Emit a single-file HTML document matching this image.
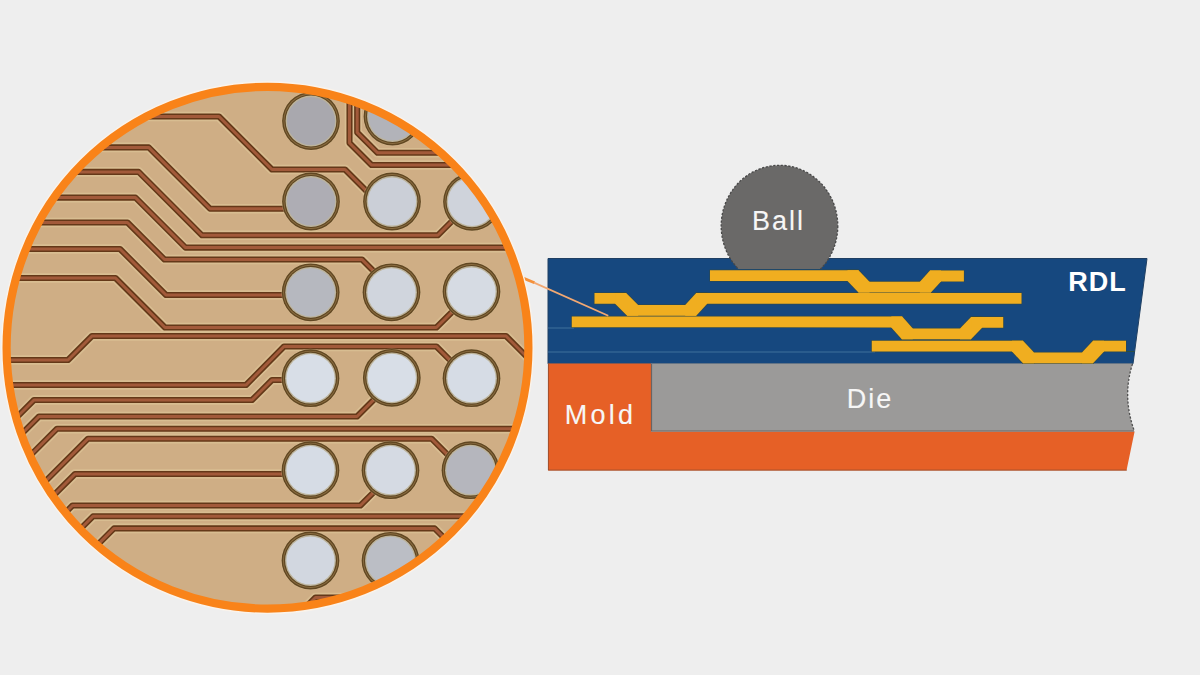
<!DOCTYPE html>
<html><head><meta charset="utf-8"><title>RDL</title>
<style>
html,body{margin:0;padding:0;background:#eeeeee;}
body{width:1200px;height:675px;overflow:hidden;}
svg{display:block;}
.lb{font-family:"Liberation Sans",sans-serif;font-size:27px;fill:#f6f6f6;stroke:#f6f6f6;stroke-width:0.12px;letter-spacing:2px;}
.m{letter-spacing:3.3px;}
.b{font-weight:bold;fill:#ffffff;stroke:none;letter-spacing:1px;}
</style></head><body>
<svg width="1200" height="675" viewBox="0 0 1200 675">
<rect width="1200" height="675" fill="#eeeeee"/>
<polygon points="548,258.5 1147,258.5 1133,363.8 548,363.8" fill="#16487f" stroke="#1f3f62" stroke-width="1"/>
<line x1="548" y1="328" x2="574" y2="328" stroke="#3f709c" stroke-width="1"/>
<line x1="548" y1="352" x2="875" y2="352" stroke="#3f709c" stroke-width="1"/>
<line x1="1126" y1="351.5" x2="1134.5" y2="351.5" stroke="#2d5040" stroke-width="1"/>
<polygon points="548,363.5 651,363.5 651,431.5 1134.6,431.5 1126.5,470.6 548,470.6" fill="#e66026"/>
<path d="M548.4,364 L548.4,470.1 L1126.8,470.1" fill="none" stroke="#8f4b2e" stroke-width="1" opacity="0.8"/>
<path d="M651,363.5 L1132.5,363.5 Q1122,396.5 1134.3,431.5 L651,431.5 Z" fill="#9b9a99"/>
<path d="M1132.5,364 Q1122,396.5 1134.3,431" fill="none" stroke="#4e4e4e" stroke-width="1.3" stroke-dasharray="2.2,1.6"/>
<path d="M651.5,364 L651.5,431 L1134,431" fill="none" stroke="#6a6463" stroke-width="1.2"/>
<defs><clipPath id="bc"><rect x="600" y="100" width="400" height="169"/></clipPath></defs>
<ellipse cx="779.5" cy="226" rx="58.3" ry="60.7" fill="#6a6968" stroke="#484848" stroke-width="1.3" stroke-dasharray="2.2,1.6" clip-path="url(#bc)"/>
<polygon points="710.0,270.2 858.5,270.2 858.5,281.1 710.0,281.1" fill="none" stroke="#3b4a35" stroke-width="1.4" stroke-linejoin="round" opacity="0.6"/>
<polygon points="847.5,270.2 858.5,270.2 869.5,281.7 869.5,292.6 858.5,292.6 847.5,281.1" fill="none" stroke="#3b4a35" stroke-width="1.4" stroke-linejoin="round" opacity="0.6"/>
<polygon points="858.5,281.7 930.9,281.7 930.9,292.6 858.5,292.6" fill="none" stroke="#3b4a35" stroke-width="1.4" stroke-linejoin="round" opacity="0.6"/>
<polygon points="919.9,292.6 919.9,281.7 930.0,270.6 941.0,270.6 941.0,281.4 930.9,292.6" fill="none" stroke="#3b4a35" stroke-width="1.4" stroke-linejoin="round" opacity="0.6"/>
<polygon points="930.0,270.6 963.9,270.6 963.9,281.4 930.0,281.4" fill="none" stroke="#3b4a35" stroke-width="1.4" stroke-linejoin="round" opacity="0.6"/>
<polygon points="594.5,292.9 626.1,292.9 626.1,303.8 594.5,303.8" fill="none" stroke="#3b4a35" stroke-width="1.4" stroke-linejoin="round" opacity="0.6"/>
<polygon points="615.1,292.9 626.1,292.9 638.1,304.9 638.1,315.8 627.1,315.8 615.1,303.8" fill="none" stroke="#3b4a35" stroke-width="1.4" stroke-linejoin="round" opacity="0.6"/>
<polygon points="627.1,304.9 696.2,304.9 696.2,315.8 627.1,315.8" fill="none" stroke="#3b4a35" stroke-width="1.4" stroke-linejoin="round" opacity="0.6"/>
<polygon points="685.2,315.8 685.2,304.9 696.2,292.9 707.2,292.9 707.2,303.8 696.2,315.8" fill="none" stroke="#3b4a35" stroke-width="1.4" stroke-linejoin="round" opacity="0.6"/>
<polygon points="696.2,292.9 1021.5,292.9 1021.5,303.8 696.2,303.8" fill="none" stroke="#3b4a35" stroke-width="1.4" stroke-linejoin="round" opacity="0.6"/>
<polygon points="571.8,316.4 582.8,316.4 902.2,316.6 902.2,327.4 891.3,327.4 571.8,327.3" fill="none" stroke="#3b4a35" stroke-width="1.4" stroke-linejoin="round" opacity="0.6"/>
<polygon points="891.3,316.6 902.2,316.6 912.8,328.4 912.8,339.3 901.8,339.3 891.3,327.4" fill="none" stroke="#3b4a35" stroke-width="1.4" stroke-linejoin="round" opacity="0.6"/>
<polygon points="901.8,328.4 971.0,328.4 971.0,339.3 901.8,339.3" fill="none" stroke="#3b4a35" stroke-width="1.4" stroke-linejoin="round" opacity="0.6"/>
<polygon points="960.0,339.3 960.0,328.4 971.1,316.9 982.1,316.9 982.1,327.8 971.0,339.3" fill="none" stroke="#3b4a35" stroke-width="1.4" stroke-linejoin="round" opacity="0.6"/>
<polygon points="971.1,316.9 1003.2,316.9 1003.2,327.8 971.1,327.8" fill="none" stroke="#3b4a35" stroke-width="1.4" stroke-linejoin="round" opacity="0.6"/>
<polygon points="871.8,340.8 1023.0,340.8 1023.0,351.6 871.8,351.6" fill="none" stroke="#3b4a35" stroke-width="1.4" stroke-linejoin="round" opacity="0.6"/>
<polygon points="1012.0,340.8 1023.0,340.8 1034.0,352.4 1034.0,363.3 1023.0,363.3 1012.0,351.6" fill="none" stroke="#3b4a35" stroke-width="1.4" stroke-linejoin="round" opacity="0.6"/>
<polygon points="1023.0,352.4 1093.0,352.4 1093.0,363.3 1023.0,363.3" fill="none" stroke="#3b4a35" stroke-width="1.4" stroke-linejoin="round" opacity="0.6"/>
<polygon points="1082.0,363.3 1082.0,352.4 1093.0,340.8 1104.0,340.8 1104.0,351.6 1093.0,363.3" fill="none" stroke="#3b4a35" stroke-width="1.4" stroke-linejoin="round" opacity="0.6"/>
<polygon points="1093.0,340.8 1126.0,340.8 1126.0,351.6 1093.0,351.6" fill="none" stroke="#3b4a35" stroke-width="1.4" stroke-linejoin="round" opacity="0.6"/>
<polygon points="710.0,270.2 858.5,270.2 858.5,281.1 710.0,281.1" fill="#f0ae20"/>
<polygon points="847.5,270.2 858.5,270.2 869.5,281.7 869.5,292.6 858.5,292.6 847.5,281.1" fill="#f0ae20"/>
<polygon points="858.5,281.7 930.9,281.7 930.9,292.6 858.5,292.6" fill="#f0ae20"/>
<polygon points="919.9,292.6 919.9,281.7 930.0,270.6 941.0,270.6 941.0,281.4 930.9,292.6" fill="#f0ae20"/>
<polygon points="930.0,270.6 963.9,270.6 963.9,281.4 930.0,281.4" fill="#f0ae20"/>
<polygon points="594.5,292.9 626.1,292.9 626.1,303.8 594.5,303.8" fill="#f0ae20"/>
<polygon points="615.1,292.9 626.1,292.9 638.1,304.9 638.1,315.8 627.1,315.8 615.1,303.8" fill="#f0ae20"/>
<polygon points="627.1,304.9 696.2,304.9 696.2,315.8 627.1,315.8" fill="#f0ae20"/>
<polygon points="685.2,315.8 685.2,304.9 696.2,292.9 707.2,292.9 707.2,303.8 696.2,315.8" fill="#f0ae20"/>
<polygon points="696.2,292.9 1021.5,292.9 1021.5,303.8 696.2,303.8" fill="#f0ae20"/>
<polygon points="571.8,316.4 582.8,316.4 902.2,316.6 902.2,327.4 891.3,327.4 571.8,327.3" fill="#f0ae20"/>
<polygon points="891.3,316.6 902.2,316.6 912.8,328.4 912.8,339.3 901.8,339.3 891.3,327.4" fill="#f0ae20"/>
<polygon points="901.8,328.4 971.0,328.4 971.0,339.3 901.8,339.3" fill="#f0ae20"/>
<polygon points="960.0,339.3 960.0,328.4 971.1,316.9 982.1,316.9 982.1,327.8 971.0,339.3" fill="#f0ae20"/>
<polygon points="971.1,316.9 1003.2,316.9 1003.2,327.8 971.1,327.8" fill="#f0ae20"/>
<polygon points="871.8,340.8 1023.0,340.8 1023.0,351.6 871.8,351.6" fill="#f0ae20"/>
<polygon points="1012.0,340.8 1023.0,340.8 1034.0,352.4 1034.0,363.3 1023.0,363.3 1012.0,351.6" fill="#f0ae20"/>
<polygon points="1023.0,352.4 1093.0,352.4 1093.0,363.3 1023.0,363.3" fill="#f0ae20"/>
<polygon points="1082.0,363.3 1082.0,352.4 1093.0,340.8 1104.0,340.8 1104.0,351.6 1093.0,363.3" fill="#f0ae20"/>
<polygon points="1093.0,340.8 1126.0,340.8 1126.0,351.6 1093.0,351.6" fill="#f0ae20"/>
<line x1="522" y1="277.6" x2="534.5" y2="282.8" stroke="#f5913a" stroke-width="2.8"/>
<line x1="534" y1="282.6" x2="608.3" y2="315.8" stroke="#f2a872" stroke-width="1.7"/>
<text x="778.5" y="229.6" class="lb" text-anchor="middle">Ball</text>
<text x="1097.5" y="291.1" class="lb b" text-anchor="middle">RDL</text>
<text x="870" y="408.4" class="lb" text-anchor="middle">Die</text>
<text x="600.6" y="423.6" class="lb m" text-anchor="middle">Mold</text>
<defs><clipPath id="cc"><circle cx="267.5" cy="347.7" r="257.8"/></clipPath></defs>
<circle cx="267.5" cy="347.7" r="257.8" fill="#cfae85"/>
<g clip-path="url(#cc)">
<g fill="none" stroke="#e2cb9e" stroke-width="9.6" stroke-linejoin="round" opacity="0.5">
<polyline points="140.0,116.5 219.0,116.5 272.0,169.5 345.0,169.5 367.0,191.5"/>
<polyline points="349.5,80.0 349.5,143.0 371.5,165.0 470.0,165.0"/>
<polyline points="357.2,80.0 357.2,132.5 377.5,152.8 470.0,152.8"/>
<polyline points="90.0,147.4 148.7,147.4 210.0,208.7 284.0,208.7"/>
<polyline points="60.0,171.9 138.6,171.9 202.0,235.3 437.8,235.3 453.5,219.6"/>
<polyline points="40.0,197.6 135.5,197.6 185.5,247.6 540.0,247.6"/>
<polyline points="20.0,222.5 127.5,222.5 164.5,259.5 362.0,259.5 375.0,272.5"/>
<polyline points="10.0,249.0 120.0,249.0 166.0,295.0 284.0,295.0"/>
<polyline points="0.0,278.0 115.5,278.0 165.0,327.5 436.4,327.5 453.5,310.5"/>
<polyline points="0.0,360.0 68.0,360.0 92.0,336.0 506.0,336.0 540.0,370.0"/>
<polyline points="0.0,385.0 246.0,385.0 284.0,346.5 436.4,346.5 452.0,362.1"/>
<polyline points="0.0,434.0 34.0,400.0 252.0,400.0 272.0,380.0 284.0,380.0"/>
<polyline points="0.0,455.5 39.0,416.5 357.0,416.5 374.0,399.5"/>
<polyline points="0.0,485.7 57.0,428.7 540.0,428.7"/>
<polyline points="0.0,526.7 88.0,438.7 431.6,438.7 448.0,455.1"/>
<polyline points="0.0,549.0 75.0,474.0 284.0,474.0"/>
<polyline points="40.0,538.0 72.5,505.5 360.4,505.5 375.3,490.6"/>
<polyline points="0.0,609.3 93.0,516.3 540.0,516.3"/>
<polyline points="0.0,642.4 114.0,528.4 434.6,528.4 540.0,633.8"/>
<polyline points="215.0,698.0 315.5,597.5 400.0,597.5"/>
</g>
<g fill="none" stroke="#643818" stroke-width="6.1" stroke-linejoin="round">
<polyline points="140.0,116.5 219.0,116.5 272.0,169.5 345.0,169.5 367.0,191.5"/>
<polyline points="349.5,80.0 349.5,143.0 371.5,165.0 470.0,165.0"/>
<polyline points="357.2,80.0 357.2,132.5 377.5,152.8 470.0,152.8"/>
<polyline points="90.0,147.4 148.7,147.4 210.0,208.7 284.0,208.7"/>
<polyline points="60.0,171.9 138.6,171.9 202.0,235.3 437.8,235.3 453.5,219.6"/>
<polyline points="40.0,197.6 135.5,197.6 185.5,247.6 540.0,247.6"/>
<polyline points="20.0,222.5 127.5,222.5 164.5,259.5 362.0,259.5 375.0,272.5"/>
<polyline points="10.0,249.0 120.0,249.0 166.0,295.0 284.0,295.0"/>
<polyline points="0.0,278.0 115.5,278.0 165.0,327.5 436.4,327.5 453.5,310.5"/>
<polyline points="0.0,360.0 68.0,360.0 92.0,336.0 506.0,336.0 540.0,370.0"/>
<polyline points="0.0,385.0 246.0,385.0 284.0,346.5 436.4,346.5 452.0,362.1"/>
<polyline points="0.0,434.0 34.0,400.0 252.0,400.0 272.0,380.0 284.0,380.0"/>
<polyline points="0.0,455.5 39.0,416.5 357.0,416.5 374.0,399.5"/>
<polyline points="0.0,485.7 57.0,428.7 540.0,428.7"/>
<polyline points="0.0,526.7 88.0,438.7 431.6,438.7 448.0,455.1"/>
<polyline points="0.0,549.0 75.0,474.0 284.0,474.0"/>
<polyline points="40.0,538.0 72.5,505.5 360.4,505.5 375.3,490.6"/>
<polyline points="0.0,609.3 93.0,516.3 540.0,516.3"/>
<polyline points="0.0,642.4 114.0,528.4 434.6,528.4 540.0,633.8"/>
<polyline points="215.0,698.0 315.5,597.5 400.0,597.5"/>
</g>
<g fill="none" stroke="#a25a3a" stroke-width="3.0" stroke-linejoin="round">
<polyline points="140.0,116.5 219.0,116.5 272.0,169.5 345.0,169.5 367.0,191.5"/>
<polyline points="349.5,80.0 349.5,143.0 371.5,165.0 470.0,165.0"/>
<polyline points="357.2,80.0 357.2,132.5 377.5,152.8 470.0,152.8"/>
<polyline points="90.0,147.4 148.7,147.4 210.0,208.7 284.0,208.7"/>
<polyline points="60.0,171.9 138.6,171.9 202.0,235.3 437.8,235.3 453.5,219.6"/>
<polyline points="40.0,197.6 135.5,197.6 185.5,247.6 540.0,247.6"/>
<polyline points="20.0,222.5 127.5,222.5 164.5,259.5 362.0,259.5 375.0,272.5"/>
<polyline points="10.0,249.0 120.0,249.0 166.0,295.0 284.0,295.0"/>
<polyline points="0.0,278.0 115.5,278.0 165.0,327.5 436.4,327.5 453.5,310.5"/>
<polyline points="0.0,360.0 68.0,360.0 92.0,336.0 506.0,336.0 540.0,370.0"/>
<polyline points="0.0,385.0 246.0,385.0 284.0,346.5 436.4,346.5 452.0,362.1"/>
<polyline points="0.0,434.0 34.0,400.0 252.0,400.0 272.0,380.0 284.0,380.0"/>
<polyline points="0.0,455.5 39.0,416.5 357.0,416.5 374.0,399.5"/>
<polyline points="0.0,485.7 57.0,428.7 540.0,428.7"/>
<polyline points="0.0,526.7 88.0,438.7 431.6,438.7 448.0,455.1"/>
<polyline points="0.0,549.0 75.0,474.0 284.0,474.0"/>
<polyline points="40.0,538.0 72.5,505.5 360.4,505.5 375.3,490.6"/>
<polyline points="0.0,609.3 93.0,516.3 540.0,516.3"/>
<polyline points="0.0,642.4 114.0,528.4 434.6,528.4 540.0,633.8"/>
<polyline points="215.0,698.0 315.5,597.5 400.0,597.5"/>
</g>
<circle cx="311" cy="121.0" r="29.4" fill="#e3cda3" opacity="0.4"/>
<circle cx="311" cy="121.0" r="28.9" fill="#614722"/>
<circle cx="311" cy="121.0" r="27.5" fill="#8b6e42"/>
<circle cx="311" cy="121.0" r="26.6" fill="#5f4621"/>
<circle cx="311" cy="121.0" r="25.4" fill="#bdb49c"/>
<circle cx="311" cy="121.0" r="24.1" fill="#a9a8ae"/>
<circle cx="392.5" cy="116.5" r="29.4" fill="#e3cda3" opacity="0.4"/>
<circle cx="392.5" cy="116.5" r="28.9" fill="#614722"/>
<circle cx="392.5" cy="116.5" r="27.5" fill="#8b6e42"/>
<circle cx="392.5" cy="116.5" r="26.6" fill="#5f4621"/>
<circle cx="392.5" cy="116.5" r="25.4" fill="#bdb49c"/>
<circle cx="392.5" cy="116.5" r="24.1" fill="#b2b3b9"/>
<circle cx="311" cy="201.5" r="29.4" fill="#e3cda3" opacity="0.4"/>
<circle cx="311" cy="201.5" r="28.9" fill="#614722"/>
<circle cx="311" cy="201.5" r="27.5" fill="#8b6e42"/>
<circle cx="311" cy="201.5" r="26.6" fill="#5f4621"/>
<circle cx="311" cy="201.5" r="25.4" fill="#bdb49c"/>
<circle cx="311" cy="201.5" r="24.1" fill="#aeadb4"/>
<circle cx="392" cy="201.5" r="29.4" fill="#e3cda3" opacity="0.4"/>
<circle cx="392" cy="201.5" r="28.9" fill="#614722"/>
<circle cx="392" cy="201.5" r="27.5" fill="#8b6e42"/>
<circle cx="392" cy="201.5" r="26.6" fill="#5f4621"/>
<circle cx="392" cy="201.5" r="25.4" fill="#bdb49c"/>
<circle cx="392" cy="201.5" r="24.1" fill="#cbcfd7"/>
<circle cx="472" cy="201.8" r="29.4" fill="#e3cda3" opacity="0.4"/>
<circle cx="472" cy="201.8" r="28.9" fill="#614722"/>
<circle cx="472" cy="201.8" r="27.5" fill="#8b6e42"/>
<circle cx="472" cy="201.8" r="26.6" fill="#5f4621"/>
<circle cx="472" cy="201.8" r="25.4" fill="#bdb49c"/>
<circle cx="472" cy="201.8" r="24.1" fill="#cfd3db"/>
<circle cx="310.7" cy="292.3" r="29.4" fill="#e3cda3" opacity="0.4"/>
<circle cx="310.7" cy="292.3" r="28.9" fill="#614722"/>
<circle cx="310.7" cy="292.3" r="27.5" fill="#8b6e42"/>
<circle cx="310.7" cy="292.3" r="26.6" fill="#5f4621"/>
<circle cx="310.7" cy="292.3" r="25.4" fill="#bdb49c"/>
<circle cx="310.7" cy="292.3" r="24.1" fill="#b6b8bf"/>
<circle cx="391.5" cy="292.3" r="29.4" fill="#e3cda3" opacity="0.4"/>
<circle cx="391.5" cy="292.3" r="28.9" fill="#614722"/>
<circle cx="391.5" cy="292.3" r="27.5" fill="#8b6e42"/>
<circle cx="391.5" cy="292.3" r="26.6" fill="#5f4621"/>
<circle cx="391.5" cy="292.3" r="25.4" fill="#bdb49c"/>
<circle cx="391.5" cy="292.3" r="24.1" fill="#d0d5dd"/>
<circle cx="471.5" cy="291.5" r="29.4" fill="#e3cda3" opacity="0.4"/>
<circle cx="471.5" cy="291.5" r="28.9" fill="#614722"/>
<circle cx="471.5" cy="291.5" r="27.5" fill="#8b6e42"/>
<circle cx="471.5" cy="291.5" r="26.6" fill="#5f4621"/>
<circle cx="471.5" cy="291.5" r="25.4" fill="#bdb49c"/>
<circle cx="471.5" cy="291.5" r="24.1" fill="#d6dbe3"/>
<circle cx="310.5" cy="378.2" r="29.4" fill="#e3cda3" opacity="0.4"/>
<circle cx="310.5" cy="378.2" r="28.9" fill="#614722"/>
<circle cx="310.5" cy="378.2" r="27.5" fill="#8b6e42"/>
<circle cx="310.5" cy="378.2" r="26.6" fill="#5f4621"/>
<circle cx="310.5" cy="378.2" r="25.4" fill="#bdb49c"/>
<circle cx="310.5" cy="378.2" r="24.1" fill="#d8dee7"/>
<circle cx="391.8" cy="377.8" r="29.4" fill="#e3cda3" opacity="0.4"/>
<circle cx="391.8" cy="377.8" r="28.9" fill="#614722"/>
<circle cx="391.8" cy="377.8" r="27.5" fill="#8b6e42"/>
<circle cx="391.8" cy="377.8" r="26.6" fill="#5f4621"/>
<circle cx="391.8" cy="377.8" r="25.4" fill="#bdb49c"/>
<circle cx="391.8" cy="377.8" r="24.1" fill="#d8dee7"/>
<circle cx="471.5" cy="378.2" r="29.4" fill="#e3cda3" opacity="0.4"/>
<circle cx="471.5" cy="378.2" r="28.9" fill="#614722"/>
<circle cx="471.5" cy="378.2" r="27.5" fill="#8b6e42"/>
<circle cx="471.5" cy="378.2" r="26.6" fill="#5f4621"/>
<circle cx="471.5" cy="378.2" r="25.4" fill="#bdb49c"/>
<circle cx="471.5" cy="378.2" r="24.1" fill="#d6dce5"/>
<circle cx="310.5" cy="470.2" r="29.4" fill="#e3cda3" opacity="0.4"/>
<circle cx="310.5" cy="470.2" r="28.9" fill="#614722"/>
<circle cx="310.5" cy="470.2" r="27.5" fill="#8b6e42"/>
<circle cx="310.5" cy="470.2" r="26.6" fill="#5f4621"/>
<circle cx="310.5" cy="470.2" r="25.4" fill="#bdb49c"/>
<circle cx="310.5" cy="470.2" r="24.1" fill="#d6dce5"/>
<circle cx="390.5" cy="470.2" r="29.4" fill="#e3cda3" opacity="0.4"/>
<circle cx="390.5" cy="470.2" r="28.9" fill="#614722"/>
<circle cx="390.5" cy="470.2" r="27.5" fill="#8b6e42"/>
<circle cx="390.5" cy="470.2" r="26.6" fill="#5f4621"/>
<circle cx="390.5" cy="470.2" r="25.4" fill="#bdb49c"/>
<circle cx="390.5" cy="470.2" r="24.1" fill="#d5dae3"/>
<circle cx="470.5" cy="470.2" r="29.4" fill="#e3cda3" opacity="0.4"/>
<circle cx="470.5" cy="470.2" r="28.9" fill="#614722"/>
<circle cx="470.5" cy="470.2" r="27.5" fill="#8b6e42"/>
<circle cx="470.5" cy="470.2" r="26.6" fill="#5f4621"/>
<circle cx="470.5" cy="470.2" r="25.4" fill="#bdb49c"/>
<circle cx="470.5" cy="470.2" r="24.1" fill="#b5b6bd"/>
<circle cx="310.5" cy="560.5" r="29.4" fill="#e3cda3" opacity="0.4"/>
<circle cx="310.5" cy="560.5" r="28.9" fill="#614722"/>
<circle cx="310.5" cy="560.5" r="27.5" fill="#8b6e42"/>
<circle cx="310.5" cy="560.5" r="26.6" fill="#5f4621"/>
<circle cx="310.5" cy="560.5" r="25.4" fill="#bdb49c"/>
<circle cx="310.5" cy="560.5" r="24.1" fill="#d2d7e0"/>
<circle cx="390.5" cy="560.8" r="29.4" fill="#e3cda3" opacity="0.4"/>
<circle cx="390.5" cy="560.8" r="28.9" fill="#614722"/>
<circle cx="390.5" cy="560.8" r="27.5" fill="#8b6e42"/>
<circle cx="390.5" cy="560.8" r="26.6" fill="#5f4621"/>
<circle cx="390.5" cy="560.8" r="25.4" fill="#bdb49c"/>
<circle cx="390.5" cy="560.8" r="24.1" fill="#bbbec5"/>
</g>
<circle cx="267.5" cy="347.7" r="265.6" fill="none" stroke="#fbf3ea" stroke-width="1.6"/>
<circle cx="267.5" cy="347.7" r="260.9" fill="none" stroke="#f98319" stroke-width="8.2"/>
</svg>
</body></html>
